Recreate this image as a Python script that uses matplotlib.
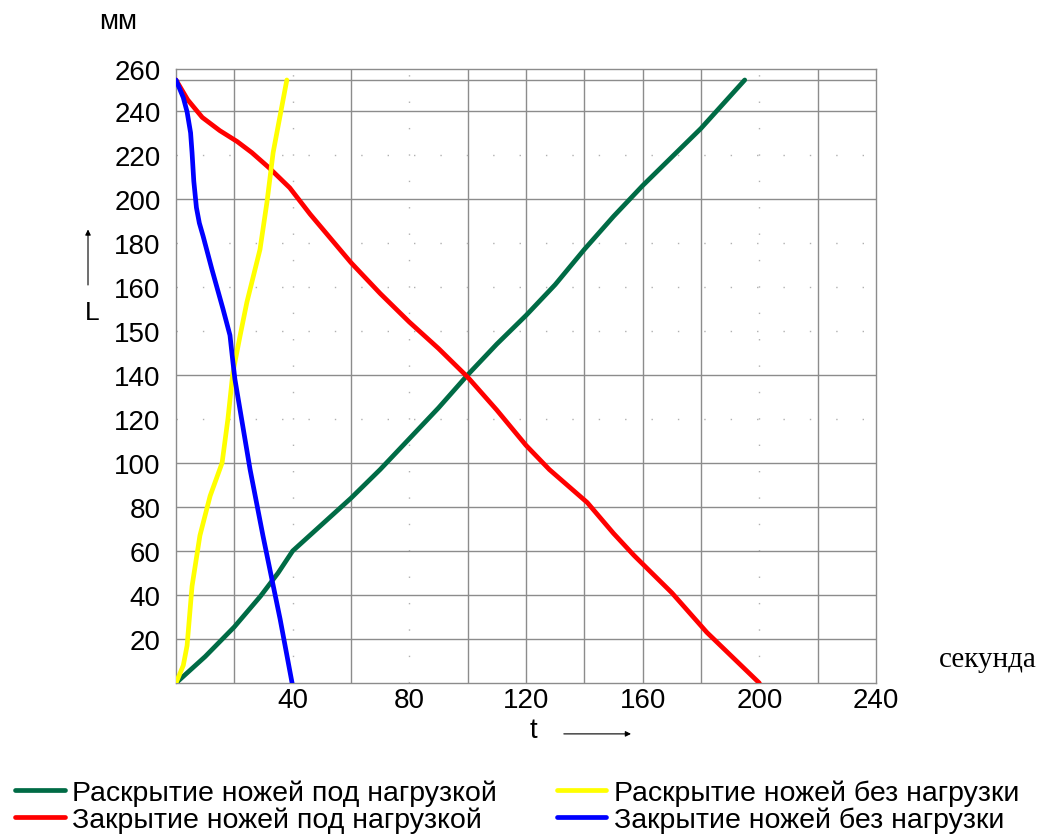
import matplotlib
matplotlib.use('Agg')
import matplotlib.pyplot as plt

# time, seconds (x) and knife travel, mm (y)
t_open_load = [0, 10, 20, 29, 35, 40, 45, 50, 60, 70, 80, 90, 100, 110, 120, 130, 140, 150, 160, 170, 180, 195]
L_open_load = [0, 12, 25.5, 39.5, 50, 60, 66, 72, 84, 97, 111, 125, 140, 154, 167, 181, 197, 212, 226, 239, 252, 274]

t_close_load = [0, 4, 9, 15, 21, 26, 32, 39, 46, 53, 60, 70, 80, 90, 100, 110, 120, 128, 141, 150, 157, 170, 182, 200]
L_close_load = [274, 265, 257, 251, 246, 241, 234, 225, 213, 202, 191, 177, 164, 152, 139, 124, 108, 97, 82, 68, 58, 41, 23, 0]

t_open_free = [0, 2.5, 3.8, 5.5, 8.2, 11.7, 15.8, 17.8, 19.5, 22, 24.3, 28.8, 31.2, 33.3, 38]
L_open_free = [0, 8, 17, 44, 67, 85, 100, 120, 141, 158, 173, 197, 218.6, 241, 274]

t_close_free = [0, 2.5, 3.8, 5.0, 5.5, 6.1, 7.0, 8.0, 9.3, 12.3, 16.1, 18.5, 19.5, 20.2, 25.4, 29.8, 32.9, 35.7, 39.8]
L_close_free = [274, 266, 259.5, 250, 241, 228, 216, 209, 203, 188, 170, 158, 146, 138, 97, 67, 47, 29, 0]

xtick_pos = [40, 80, 120, 160, 200, 240]
xtick_lab = ['40', '80', '120', '160', '200', '240']
ytick_pos = [20, 40, 60, 80, 100, 120, 140, 160, 180, 200, 220, 240, 260, 279]
ytick_lab = ['20', '40', '60', '80', '100', '120', '140', '150', '160', '180', '200', '220', '240', '260']

names = ['Раскрытие ножей под нагрузкой', 'Закрытие ножей под нагрузкой',
         'Раскрытие ножей без нагрузки', 'Закрытие ножей без нагрузки']

plt.rcParams['font.family'] = ['Liberation Sans', 'DejaVu Sans']

fig = plt.figure(figsize=(10.39, 8.37), dpi=100)
ax = fig.add_axes([0.1694, 0.1828, 0.6737, 0.7336])

# grid: some lines solid, some only dotted (as in the scan)
for x in [20, 60, 100, 120, 140, 160, 180, 220]:
    ax.axvline(x, color='#8c8c8c', lw=1.0, zorder=1)
for x in [40, 80, 200]:
    ax.axvline(x, color='#b0b0b0', lw=1.0, ls=(0, (1, 18)), zorder=1)
for y in [20, 40, 60, 80, 100, 140, 220, 260, 274]:
    ax.axhline(y, color='#8c8c8c', lw=1.0, zorder=1)
for y in [120, 160, 180, 200, 240]:
    ax.axhline(y, color='#b0b0b0', lw=1.0, ls=(0, (1, 18)), zorder=1)

l1, = ax.plot(t_open_load, L_open_load, color='#006b45', lw=3.4, solid_capstyle='round', zorder=3)
l2, = ax.plot(t_close_load, L_close_load, color='#ff0000', lw=3.4, solid_capstyle='round', zorder=3)
l3, = ax.plot(t_open_free, L_open_free, color='#ffff00', lw=3.4, solid_capstyle='round', zorder=4)
l4, = ax.plot(t_close_free, L_close_free, color='#0000ff', lw=3.4, solid_capstyle='round', zorder=4)

ax.set_xlim(0, 240)
ax.set_ylim(0, 279)
ax.set_xticks(xtick_pos)
ax.set_xticklabels(xtick_lab)
ax.set_yticks(ytick_pos)
ax.set_yticklabels(ytick_lab)
ax.tick_params(length=0, labelsize=20)
ax.tick_params(axis='x', pad=3)
ax.tick_params(axis='y', pad=11)
for s in ax.spines.values():
    s.set_color('#8c8c8c')
    s.set_linewidth(1.0)

fig.text(0.1136, 0.9737, 'мм', fontsize=20, ha='center', va='center')
fig.text(0.0885, 0.626, 'L', fontsize=19, ha='center', va='center')
fig.text(0.513, 0.127, 't', fontsize=20, ha='center', va='center')
fig.text(0.951, 0.211, 'секунда', fontsize=21, ha='center', va='center',
         family=['Liberation Serif', 'DejaVu Serif'])

ax.annotate('', xy=(0.0847, 0.728), xytext=(0.0847, 0.655), xycoords='figure fraction',
            arrowprops=dict(arrowstyle='-|>', color='black', lw=0.8, mutation_scale=8))
ax.annotate('', xy=(0.610, 0.122), xytext=(0.540, 0.122), xycoords='figure fraction',
            arrowprops=dict(arrowstyle='-|>', color='black', lw=0.8, mutation_scale=8))

fig.legend([l1, l2, l3, l4], names, ncol=2, loc='upper left', bbox_to_anchor=(0.0144, 0.067),
           frameon=False, fontsize=20.5, handlelength=1.75, handletextpad=0.25,
           columnspacing=2.1, labelspacing=0.0, borderpad=0, borderaxespad=0)

fig.savefig('out.png', dpi=100, facecolor='white')
